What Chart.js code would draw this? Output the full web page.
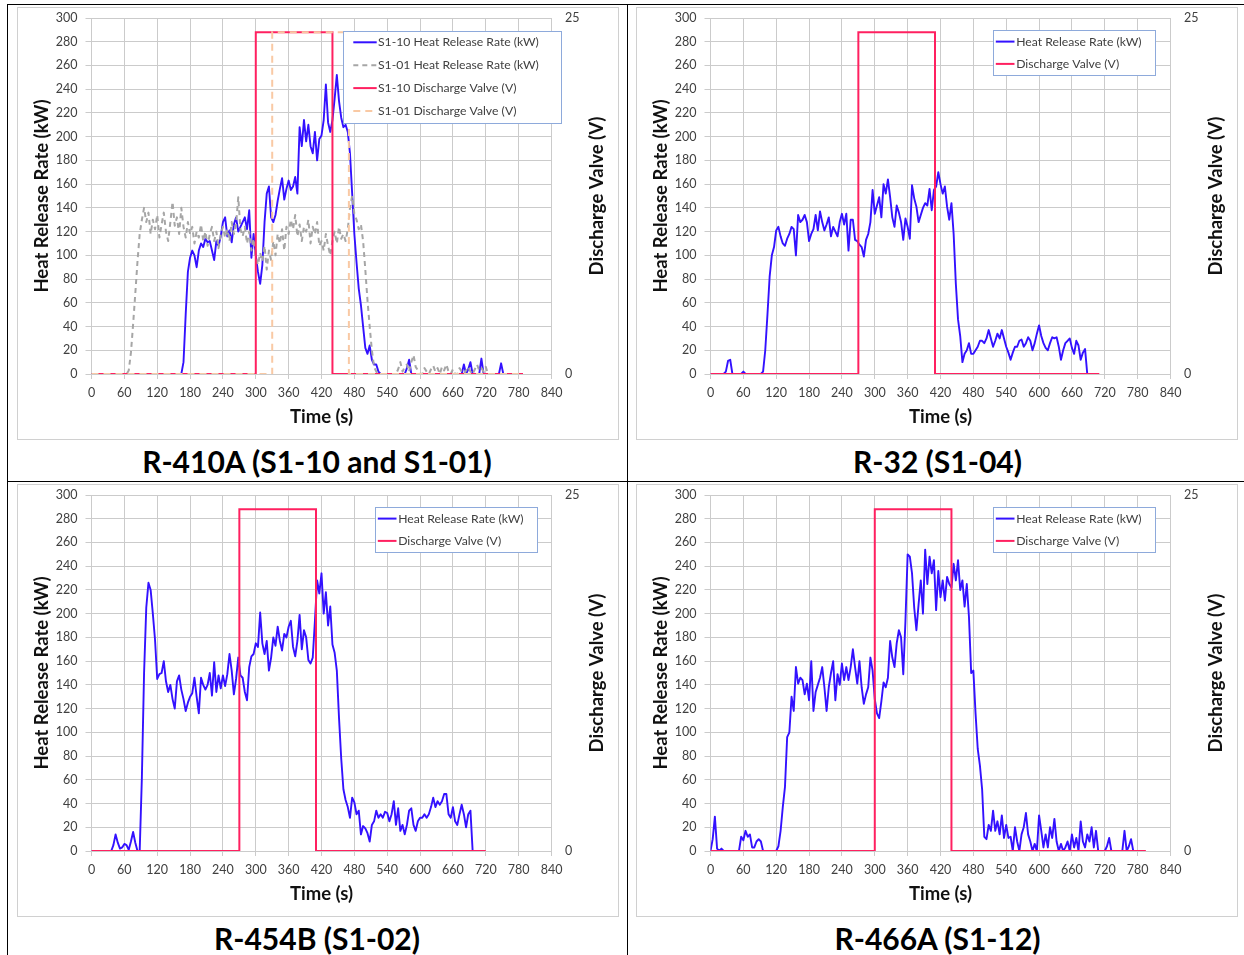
<!DOCTYPE html>
<html>
<head>
<meta charset="utf-8">
<title>Heat release rate and discharge valve</title>
<script src="https://cdn.jsdelivr.net/npm/chart.js@4.4.1/dist/chart.umd.min.js"></script>
<style>
  html, body { margin: 0; padding: 0; background: #fff; }
  body { width: 1244px; height: 955px; position: relative; overflow: hidden; font-family: Lato, "Open Sans", sans-serif; }
  .rule { position: absolute; background: #000; }
  .frame { position: absolute; width: 602px; height: 433px; box-sizing: border-box; border: 1px solid #d0d0d0; }
  .frame canvas { position: absolute; left: -1px; top: -1px; }
  .caption { position: absolute; text-align: center; font-weight: 700; font-size: 30px; line-height: 34px; color: #000; }
</style>
</head>
<body>

<!-- table rules -->
<div class="rule" style="left:7px; top:4px; width:1237px; height:1px;"></div>
<div class="rule" style="left:7px; top:4px; width:1px; height:951px;"></div>
<div class="rule" style="left:627px; top:4px; width:1px; height:951px;"></div>
<div class="rule" style="left:7px; top:481px; width:1237px; height:1px;"></div>

<div class="frame" style="left:17px; top:7px;"><canvas id="chartR410a" width="602" height="433"></canvas></div>
<div class="frame" style="left:636px; top:7px;"><canvas id="chartR32" width="602" height="433"></canvas></div>
<div class="frame" style="left:17px; top:484px;"><canvas id="chartR454b" width="602" height="433"></canvas></div>
<div class="frame" style="left:636px; top:484px;"><canvas id="chartR466a" width="602" height="433"></canvas></div>

<div class="caption" style="left:7px; width:620px; top:444px;">R-410A (S1-10 and S1-01)</div>
<div class="caption" style="left:627px; width:621px; top:444px;">R-32 (S1-04)</div>
<div class="caption" style="left:7px; width:620px; top:921px;">R-454B (S1-02)</div>
<div class="caption" style="left:627px; width:621px; top:921px;">R-466A (S1-12)</div>

<script>
// Heat release rate samples, one value every 4 s starting at 0 s (kW)
const sampleStep = 4;

const r410aS110Hrr = [
    0, 0, 0, 0, 0, 0, 0, 0, 0, 0,
    0, 0, 0, 0, 0, 0, 0, 0, 0, 0,
    0, 0, 0, 0, 0, 0, 0, 0, 0, 0,
    0, 0, 0, 0, 0, 0, 0, 0, 0, 0,
    0, 0, 10, 50, 86, 98, 104, 100, 90, 104,
    110, 107, 114, 111, 112, 104, 96, 112, 108, 116,
    128, 132, 116, 121, 111, 126, 132, 120, 124, 128,
    132, 122, 138, 98, 118, 100, 86, 76, 92, 128,
    152, 158, 132, 128, 134, 146, 156, 165, 147, 156,
    163, 155, 158, 166, 152, 208, 192, 214, 196, 210,
    192, 186, 204, 180, 198, 201, 214, 244, 212, 204,
    214, 232, 252, 230, 216, 208, 210, 204, 186, 152,
    118, 94, 72, 58, 40, 22, 17, 24, 12, 8,
    8, 2, 0, 0, 0, 0, 0, 0, 0, 0,
    0, 0, 0, 0, 5, 12, 0, 0, 0, 0,
    0, 0, 0, 0, 0, 0, 0, 0, 0, 0,
    0, 0, 0, 0, 0, 0, 0, 0, 0, 0,
    8, 0, 4, 10, 0, 0, 0, 0, 13, 0,
    0, 0, 0, 0, 0, 0, 0, 9, 0, 0,
    0
];

const r410aS101Hrr = [
    0, 0, 0, 0, 0, 0, 0, 0, 0, 0,
    0, 0, 0, 0, 0, 0, 0, 3, 18, 42,
    68, 95, 118, 130, 140, 128, 136, 118, 130, 122,
    134, 115, 126, 136, 120, 112, 128, 145, 125, 132,
    118, 140, 124, 115, 128, 118, 124, 110, 120, 115,
    126, 112, 120, 108, 118, 124, 112, 120, 106, 118,
    124, 115, 122, 112, 128, 118, 126, 149, 122, 116,
    124, 110, 120, 104, 114, 98, 92, 102, 95, 108,
    88, 104, 96, 112, 100, 118, 110, 122, 104, 124,
    118, 130, 122, 134, 116, 126, 112, 124, 120, 130,
    110, 124, 118, 128, 108, 112, 104, 118, 108, 100,
    112, 120, 110, 124, 114, 118, 112, 122, 140, 150,
    135, 130, 122, 126, 112, 88, 62, 40, 20, 6,
    2, 0, 0, 0, 0, 0, 0, 0, 0, 0,
    4, 10, 2, 6, 8, 2, 10, 16, 6, 3,
    0, 0, 5, 2, 0, 4, 7, 2, 5, 0,
    6, 3, 8, 2, 0, 4, 0, 0, 5, 2,
    0, 3, 6, 2, 0, 4, 8, 3, 5, 2,
    6, 0
];

const r32Hrr = [
    0, 0, 0, 0, 0, 0, 0, 2, 11, 12,
    0, 0, 0, 0, 0, 2, 0, 0, 0, 0,
    0, 0, 0, 0, 2, 20, 50, 82, 100, 107,
    121, 124, 116, 110, 108, 114, 118, 124, 122, 100,
    134, 128, 130, 134, 128, 112, 118, 122, 134, 121,
    137, 128, 121, 126, 132, 116, 124, 120, 116, 128,
    135, 126, 135, 104, 130, 130, 113, 112, 109, 107,
    99, 113, 118, 128, 155, 135, 142, 149, 132, 160,
    152, 164, 149, 132, 124, 142, 136, 128, 113, 131,
    124, 114, 159, 148, 141, 128, 134, 140, 144, 142,
    156, 138, 155, 158, 170, 160, 152, 158, 141, 130,
    144, 118, 76, 46, 32, 10, 17, 20, 26, 17,
    17, 20, 23, 28, 28, 26, 30, 37, 30, 23,
    28, 34, 30, 37, 30, 23, 18, 12, 18, 23,
    23, 28, 29, 23, 26, 31, 28, 20, 26, 34,
    41, 32, 26, 22, 20, 26, 31, 30, 31, 23,
    12, 20, 26, 28, 30, 22, 17, 28, 24, 12,
    18, 21, 0
];

const r454bHrr = [
    0, 0, 0, 0, 0, 0, 0, 0, 0, 0,
    5, 14, 7, 2, 3, 6, 5, 1, 8, 16,
    7, 0, 0, 62, 150, 205, 226, 220, 200, 178,
    145, 149, 150, 160, 143, 134, 140, 128, 120, 143,
    148, 136, 128, 118, 125, 130, 133, 146, 130, 116,
    146, 140, 136, 140, 150, 131, 159, 134, 148, 137,
    148, 139, 149, 166, 152, 132, 145, 163, 148, 146,
    134, 127, 155, 164, 166, 175, 172, 201, 175, 166,
    177, 152, 163, 180, 173, 189, 177, 169, 183, 180,
    189, 194, 172, 164, 177, 199, 170, 186, 180, 161,
    158, 163, 194, 228, 217, 234, 200, 218, 190, 206,
    174, 167, 152, 112, 78, 52, 43, 37, 28, 45,
    41, 31, 34, 14, 21, 19, 15, 8, 22, 25,
    34, 28, 31, 28, 33, 32, 25, 31, 42, 22,
    36, 17, 22, 14, 22, 34, 36, 22, 17, 25,
    28, 28, 31, 28, 31, 37, 45, 37, 42, 39,
    42, 48, 48, 31, 28, 37, 25, 22, 31, 39,
    31, 20, 31, 34, 0
];

const r466aHrr = [
    0, 10, 29, 2, 0, 2, 0, 0, 0, 0,
    0, 0, 0, 0, 12, 9, 17, 12, 14, 3,
    3, 8, 10, 8, 0, 0, 0, 0, 0, 0,
    0, 4, 17, 37, 54, 96, 100, 130, 118, 155,
    141, 146, 144, 132, 141, 127, 160, 118, 134, 140,
    146, 155, 138, 118, 138, 150, 160, 127, 149, 140,
    158, 144, 155, 144, 155, 170, 155, 141, 160, 138,
    124, 132, 138, 163, 152, 128, 116, 112, 126, 142,
    138, 146, 177, 163, 155, 175, 186, 180, 149, 194,
    250, 248, 234, 205, 186, 208, 228, 200, 254, 225,
    248, 234, 245, 203, 236, 214, 228, 211, 231, 225,
    222, 242, 228, 245, 220, 228, 206, 225, 197, 150,
    152, 116, 86, 72, 52, 12, 10, 22, 17, 34,
    17, 25, 14, 30, 11, 22, 11, 12, 0, 20,
    8, 0, 14, 20, 32, 14, 8, 0, 6, 0,
    30, 17, 3, 14, 3, 20, 11, 27, 8, 0,
    6, 0, 3, 8, 0, 14, 3, 11, 0, 25,
    8, 3, 14, 8, 20, 3, 17, 0, 0, 0,
    0, 4, 11, 0, 0, 0, 0, 0, 0, 17,
    0, 4, 10, 0
];

// Discharge valve signal: step times (s) and voltage levels (V)
const valveVolts = [0, 0, 24, 24, 0, 0];
const r410aS110ValveTimes = [0, 300, 300, 440, 440, 788];
const r410aS101ValveTimes = [0, 330, 330, 470, 470, 788];
const r32ValveTimes = [0, 270, 270, 410, 410, 710];
const r454bValveTimes = [0, 270, 270, 410, 410, 720];
const r466aValveTimes = [0, 300, 300, 440, 440, 795];

// Axis ticks
const timeTicks = { min: 0, max: 840, step: 60 };
const hrrTicks = { min: 0, max: 300, step: 20 };
const voltTicks = { min: 0, max: 25, step: 25 };

const HRR_BLUE = '#3311ff';
const VALVE_RED = '#ff2060';
const HRR_GREY = '#a6a6a6';
const VALVE_PEACH = '#f9c9a4';
const GRID = '#cbcbcb';
const TICK_TEXT = '#404040';

Chart.defaults.font.family = 'Lato, "Open Sans", sans-serif';
Chart.defaults.color = TICK_TEXT;


// Sampled series -> {x, y} points
function sampledPoints(values) {
    return values.map((v, i) => ({ x: i * sampleStep, y: v }));
}

// Step series -> {x, y} points
function stepPoints(times, values) {
    return times.map((t, i) => ({ x: t, y: values[i] }));
}

function hrrDataset(label, values, color, dash, order) {
    return {
        label: label,
        data: sampledPoints(values),
        yAxisID: 'y',
        borderColor: color,
        borderWidth: dash ? 2 : 1.9,
        borderDash: dash || [],
        borderJoinStyle: 'round',
        pointRadius: 0,
        tension: 0,
        order: order
    };
}

function valveDataset(label, times, color, dash, order) {
    return {
        label: label,
        data: stepPoints(times, valveVolts),
        yAxisID: 'y1',
        borderColor: color,
        borderWidth: 2,
        borderDash: dash || [],
        pointRadius: 0,
        tension: 0,
        order: order
    };
}


// Draws the boxed legend and the rotated right-hand axis title
const panelExtras = {
    id: 'panelExtras',
    afterDraw(chart, args, opts) {
        const ctx = chart.ctx;
        const area = chart.chartArea;
        ctx.save();

        // right axis title, reading bottom to top
        ctx.translate(opts.rightTitleX, (area.top + area.bottom) / 2);
        ctx.rotate(-Math.PI / 2);
        ctx.font = 'bold 18.5px Lato, "Open Sans", sans-serif';
        ctx.fillStyle = '#111';
        ctx.textAlign = 'center';
        ctx.textBaseline = 'middle';
        ctx.fillText('Discharge Valve (V)', 0, 0);
        ctx.setTransform(1, 0, 0, 1, 0, 0);

        // legend box
        const box = opts.box;
        ctx.fillStyle = '#fff';
        ctx.fillRect(box.x, box.y, box.w, box.h);
        ctx.strokeStyle = '#8eaadb';
        ctx.lineWidth = 1;
        ctx.strokeRect(Math.round(box.x) + 0.5, Math.round(box.y) + 0.5, box.w, box.h);

        ctx.font = '12.2px Lato, "Open Sans", sans-serif';
        ctx.textAlign = 'left';
        ctx.textBaseline = 'middle';
        chart.data.datasets.forEach((ds, i) => {
            const y = box.y + box.firstRow + i * box.rowGap;
            ctx.strokeStyle = ds.borderColor;
            ctx.lineWidth = 2;
            ctx.setLineDash(ds.borderDash);
            ctx.beginPath();
            ctx.moveTo(box.x + box.lineStart, y);
            ctx.lineTo(box.x + box.lineStart + box.lineLen, y);
            ctx.stroke();
            ctx.setLineDash([]);
            ctx.fillStyle = TICK_TEXT;
            ctx.fillText(ds.label, box.x + box.textStart, y);
        });
        ctx.restore();
    }
};


// Pin an axis to a fixed size and drop the label overhang padding,
// so every panel gets the same plot box
function fixedWidth(width) {
    return (scale) => {
        scale.width = width;
        scale.paddingTop = 0;
        scale.paddingBottom = 0;
    };
}

function fixedHeight(height) {
    return (scale) => {
        scale.height = height;
        scale.paddingLeft = 0;
        scale.paddingRight = 0;
    };
}


function panelConfig(datasets, legendBox) {
    const tickFont = { size: 12.5 };
    const titleFont = { size: 18.5, weight: 'bold' };
    return {
        type: 'line',
        data: { datasets: datasets },
        options: {
            responsive: false,
            animation: false,
            devicePixelRatio: 1,
            events: [],
            layout: { autoPadding: false, padding: { top: 11, left: 0, right: 0, bottom: 0 } },
            plugins: {
                legend: { display: false },
                tooltip: { enabled: false },
                panelExtras: { rightTitleX: 580, box: legendBox }
            },
            scales: {
                x: {
                    type: 'linear',
                    min: timeTicks.min,
                    max: timeTicks.max,
                    grid: { color: GRID, tickColor: GRID, tickLength: 5 },
                    border: { color: GRID },
                    ticks: { stepSize: timeTicks.step, padding: 6, font: tickFont, autoSkip: false, maxRotation: 0 },
                    title: { display: true, text: 'Time (s)', color: '#111', font: titleFont, padding: { top: 0, bottom: 11.6 } },
                    afterFit: fixedHeight(66)
                },
                y: {
                    position: 'left',
                    min: hrrTicks.min,
                    max: hrrTicks.max,
                    grid: { color: GRID, tickColor: GRID, tickLength: 6 },
                    border: { color: GRID },
                    ticks: { stepSize: hrrTicks.step, padding: 8, font: tickFont, autoSkip: false },
                    title: { display: true, text: 'Heat Release Rate (kW)', color: '#111', font: titleFont, padding: { top: 13.6, bottom: 0 } },
                    afterFit: fixedWidth(74.5)
                },
                y1: {
                    position: 'right',
                    min: voltTicks.min,
                    max: voltTicks.max,
                    grid: { drawOnChartArea: false, drawTicks: false },
                    border: { display: false },
                    ticks: { stepSize: voltTicks.step, padding: 13.5, font: tickFont },
                    afterFit: fixedWidth(67.5)
                }
            }
        },
        plugins: [panelExtras]
    };
}


function buildPanel(canvasId, datasets, legendBox) {
    const canvas = document.getElementById(canvasId);
    return new Chart(canvas.getContext('2d'), panelConfig(datasets, legendBox));
}

// Legend boxes (canvas pixels)
const wideLegend = { x: 326, y: 24, w: 218, h: 92, firstRow: 11.3, rowGap: 22.9, lineStart: 10.3, lineLen: 23.4, textStart: 35 };
const smallLegend = { x: 357, y: 23, w: 162, h: 45, firstRow: 11.6, rowGap: 22.3, lineStart: 2.8, lineLen: 18.7, textStart: 23.2 };

buildPanel('chartR410a', [
    hrrDataset('S1-10 Heat Release Rate (kW)', r410aS110Hrr, HRR_BLUE, null, 3),
    hrrDataset('S1-01 Heat Release Rate (kW)', r410aS101Hrr, HRR_GREY, [5, 4], 2),
    valveDataset('S1-10 Discharge Valve (V)', r410aS110ValveTimes, VALVE_RED, null, 1),
    valveDataset('S1-01 Discharge Valve (V)', r410aS101ValveTimes, VALVE_PEACH, [7, 5], 0)
], wideLegend);

buildPanel('chartR32', [
    hrrDataset('Heat Release Rate (kW)', r32Hrr, HRR_BLUE, null, 1),
    valveDataset('Discharge Valve (V)', r32ValveTimes, VALVE_RED, null, 0)
], smallLegend);

buildPanel('chartR454b', [
    hrrDataset('Heat Release Rate (kW)', r454bHrr, HRR_BLUE, null, 1),
    valveDataset('Discharge Valve (V)', r454bValveTimes, VALVE_RED, null, 0)
], Object.assign({}, smallLegend, { x: 358 }));

buildPanel('chartR466a', [
    hrrDataset('Heat Release Rate (kW)', r466aHrr, HRR_BLUE, null, 1),
    valveDataset('Discharge Valve (V)', r466aValveTimes, VALVE_RED, null, 0)
], smallLegend);
</script>
</body>
</html>
